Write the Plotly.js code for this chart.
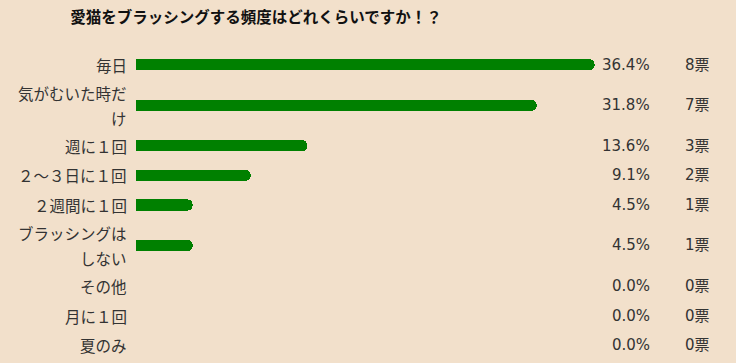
<!DOCTYPE html>
<html>
<head>
<meta charset="utf-8">
<script src="https://cdn.plot.ly/plotly-3.0.1.min.js"></script>
<style>html,body{margin:0;padding:0;background:#F2E0CB;}</style>
</head>
<body>
<div id="chart" style="width:736px;height:363px;"></div>
<script>
// ---- data ----
const titleText = '愛猫をブラッシングする頻度はどれくらいですか！？';
const categories = ['毎日', '気がむいた時だ<br>け', '週に１回', '２～３日に１回', '２週間に１回', 'ブラッシングは<br>しない', 'その他', '月に１回', '夏のみ'];
const votes = [8, 7, 3, 2, 1, 1, 0, 0, 0];
const voteSuffix = '票';

// ---- derived ----
const total = votes.reduce((a, b) => a + b, 0);
const pct = votes.map(v => Math.round(v / total * 1000) / 10);

const H1 = 29.6, H2 = 51.2, LINE_GAP = 25;
const lineCounts = categories.map(c => c.split('<br>').length);
const yPos = [];
let acc = 0;
lineCounts.forEach(n => { const h = n > 1 ? H2 : H1; yPos.push(acc + h / 2); acc += h; });

const cjkFam = '"Noto Sans CJK JP", "Noto Sans", sans-serif';
const numFam = '"DejaVu Sans", "Noto Sans CJK JP", sans-serif';
const txtColor = '#333333';

const annotations = [];
categories.forEach((c, i) => {
  const lines = c.split('<br>');
  lines.forEach((ln, j) => {
    annotations.push({
      xref: 'x', yref: 'y', x: 0, y: yPos[i], xanchor: 'right', yanchor: 'middle',
      xshift: -7, yshift: -((j - (lines.length - 1) / 2) * LINE_GAP),
      text: ln, showarrow: false, font: {family: cjkFam, size: 15.5, color: txtColor}
    });
  });
  annotations.push({
    xref: 'x', yref: 'y', x: 40, y: yPos[i], xanchor: 'right', yanchor: 'middle', xshift: 12,
    text: pct[i].toFixed(1) + '%', showarrow: false, font: {family: numFam, size: 15, color: txtColor}
  });
  annotations.push({
    xref: 'x', yref: 'y', x: 40, y: yPos[i], xanchor: 'left', yanchor: 'middle', xshift: 43,
    text: votes[i] + voteSuffix, showarrow: false, font: {family: numFam, size: 15, color: txtColor}
  });
});

const trace = {
  type: 'bar', orientation: 'h',
  x: pct, y: yPos, width: 11,
  marker: {color: '#008000', cornerradius: 5.5, line: {width: 0}},
  hoverinfo: 'skip'
};

const layout = {
  width: 736, height: 363,
  paper_bgcolor: '#F2E0CB', plot_bgcolor: 'rgba(0,0,0,0)',
  margin: {l: 136, r: 96, t: 50, b: 3, pad: 0},
  title: {
    text: '<b>' + titleText + '</b>',
    x: 256 / 736, xref: 'container', xanchor: 'center',
    y: 1 - 18 / 363, yref: 'container', yanchor: 'middle',
    font: {family: cjkFam, size: 15.5, color: '#111111'}
  },
  xaxis: {range: [0, 40], visible: false, fixedrange: true},
  yaxis: {range: [acc, 0], visible: false, fixedrange: true},
  showlegend: false,
  bargap: 0,
  annotations: annotations
};

Plotly.newPlot('chart', [trace], layout, {displayModeBar: false, staticPlot: true});
</script>
</body>
</html>
